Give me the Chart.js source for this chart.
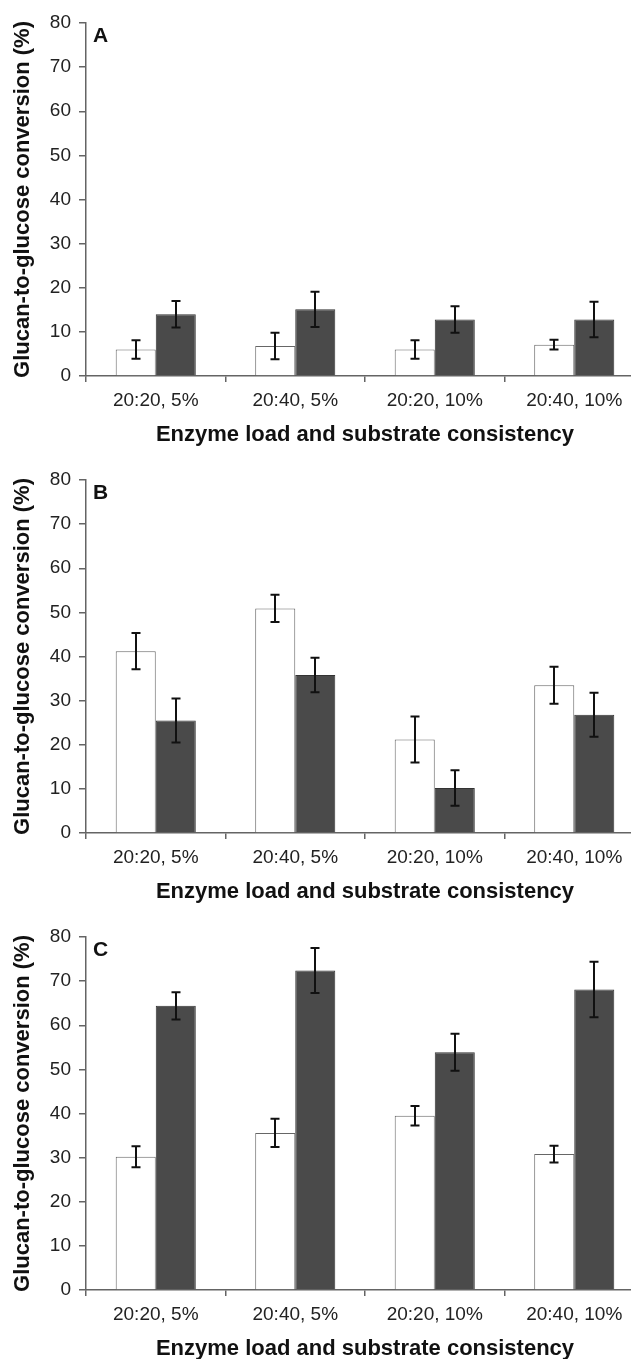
<!DOCTYPE html>
<html lang="en">

<head>
  <meta charset="UTF-8">
  <title>Glucan-to-glucose conversion</title>
  <script src="https://cdn.jsdelivr.net/npm/chart.js"></script>
  <style>
    html, body { margin: 0; padding: 0; overflow: hidden; background: #fff; }
    canvas { display: block; }
  </style>
</head>

<body>
  <canvas id="panelA" width="650" height="457"></canvas>
  <canvas id="panelB" width="650" height="457"></canvas>
  <canvas id="panelC" width="650" height="457"></canvas>
  <script>

    var categories = ['20:20, 5%', '20:40, 5%', '20:20, 10%', '20:40, 10%'];
    var yMin = 0;
    var yMax = 80;
    var yStep = 10;

    // panel A
    var aWhite = [6.0, 6.8, 6.0, 7.1];
    var aWhiteErr = [2.1, 3.0, 2.1, 1.1];
    var aDark = [14.0, 15.1, 12.8, 12.8];
    var aDarkErr = [3.0, 4.0, 3.0, 4.0];

    // panel B
    var bWhite = [41.2, 50.9, 21.2, 33.5];
    var bWhiteErr = [4.1, 3.1, 5.2, 4.2];
    var bDark = [25.5, 35.8, 10.2, 26.8];
    var bDarkErr = [5.0, 3.9, 4.0, 5.0];

    // panel C
    var cWhite = [30.2, 35.6, 39.5, 30.8];
    var cWhiteErr = [2.4, 3.2, 2.2, 1.9];
    var cDark = [64.4, 72.4, 53.9, 68.1];
    var cDarkErr = [3.1, 5.1, 4.2, 6.3];

    var fontFamily = '"Liberation Sans", Arial, sans-serif';
    var axisColor = '#646464';

    // draws the error bars on top of the bars, using the bar elements and the y scale
    var errorBarPlugin = {
      id: 'errorBars',
      afterDatasetsDraw: function (chart) {
        var ctx = chart.ctx;
        var yScale = chart.scales.y;
        ctx.save();
        ctx.strokeStyle = '#111';
        ctx.lineWidth = 2;
        chart.data.datasets.forEach(function (ds, i) {
          var meta = chart.getDatasetMeta(i);
          meta.data.forEach(function (bar, j) {
            var v = ds.data[j];
            var e = ds.errors[j];
            var yTop = yScale.getPixelForValue(v + e);
            var yBot = yScale.getPixelForValue(v - e);
            var x = Math.round(bar.x);
            ctx.beginPath();
            ctx.moveTo(x, yTop);
            ctx.lineTo(x, yBot);
            ctx.moveTo(x - 4.5, yTop);
            ctx.lineTo(x + 4.5, yTop);
            ctx.moveTo(x - 4.5, yBot);
            ctx.lineTo(x + 4.5, yBot);
            ctx.stroke();
          });
        });
        ctx.restore();
      }
    };

    // panel letter in the top left corner of the plot
    var letterPlugin = {
      id: 'panelLetter',
      afterDraw: function (chart, args, opts) {
        var ctx = chart.ctx;
        ctx.save();
        ctx.fillStyle = '#111';
        ctx.font = 'bold 21px ' + fontFamily;
        ctx.textBaseline = 'alphabetic';
        ctx.fillText(opts.text, chart.chartArea.left + 7, chart.chartArea.top + 19);
        ctx.restore();
      }
    };

    function makePanel(id, letter, white, whiteErr, dark, darkErr) {
      return new Chart(document.getElementById(id), {
        type: 'bar',
        data: {
          labels: categories,
          datasets: [{
            label: 'white',
            data: white,
            errors: whiteErr,
            backgroundColor: '#ffffff',
            borderColor: '#666666',
            borderWidth: 1
          }, {
            label: 'dark',
            data: dark,
            errors: darkErr,
            backgroundColor: '#4a4a4a',
            borderColor: '#333333',
            borderWidth: 1
          }]
        },
        options: {
          responsive: false,
          animation: false,
          events: [],
          categoryPercentage: 0.574,
          barPercentage: 1.0,
          layout: { padding: { top: 23, right: 6, bottom: 0, left: 0 } },
          plugins: {
            legend: { display: false },
            tooltip: { enabled: false },
            panelLetter: { text: letter }
          },
          scales: {
            x: {
              offset: true,
              afterFit: function (scale) { scale.height = 81; },
              grid: {
                offset: true,
                drawOnChartArea: false,
                drawTicks: true,
                tickLength: 6,
                color: axisColor,
                lineWidth: 1.5
              },
              border: { color: axisColor, width: 1.5 },
              ticks: {
                color: '#222',
                padding: 7,
                maxRotation: 0,
                font: { family: fontFamily, size: 19 }
              },
              title: {
                display: true,
                text: 'Enzyme load and substrate consistency',
                color: '#111',
                padding: { top: 0, bottom: 9 },
                font: { family: fontFamily, size: 22, weight: 'bold' }
              }
            },
            y: {
              min: yMin,
              max: yMax,
              afterFit: function (scale) { scale.width = 86; },
              grid: {
                drawOnChartArea: false,
                drawTicks: true,
                tickLength: 7,
                color: axisColor,
                lineWidth: 1.5
              },
              border: { color: axisColor, width: 1.5 },
              ticks: {
                stepSize: yStep,
                color: '#222',
                padding: 8,
                font: { family: fontFamily, size: 19 }
              },
              title: {
                display: true,
                text: 'Glucan-to-glucose conversion (%)',
                color: '#111',
                padding: { top: 10, bottom: 0 },
                font: { family: fontFamily, size: 22, weight: 'bold' }
              }
            }
          }
        },
        plugins: [errorBarPlugin, letterPlugin]
      });
    }

    makePanel('panelA', 'A', aWhite, aWhiteErr, aDark, aDarkErr);
    makePanel('panelB', 'B', bWhite, bWhiteErr, bDark, bDarkErr);
    makePanel('panelC', 'C', cWhite, cWhiteErr, cDark, cDarkErr);
  </script>
</body>

</html>
